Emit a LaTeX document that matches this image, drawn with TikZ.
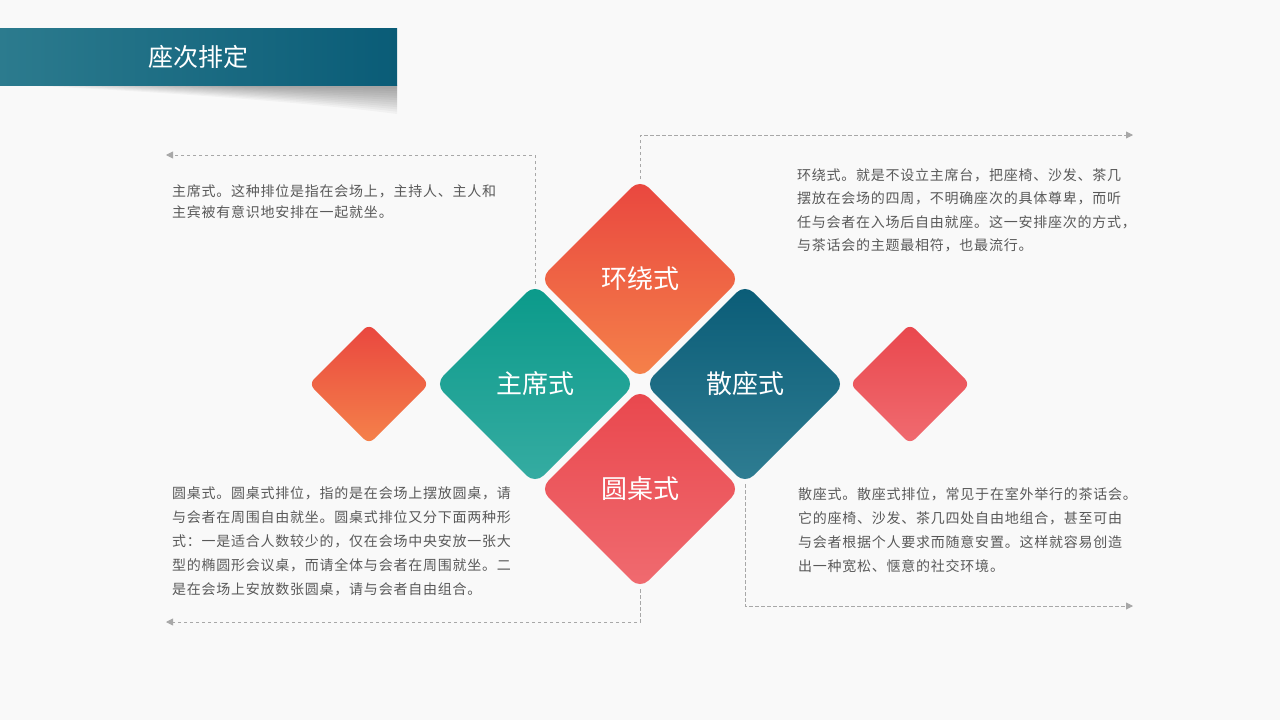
\documentclass[tikz,border=0pt]{standalone}
\usepackage{fontspec}
\newfontfamily\cjk{Noto Sans CJK SC}
\newfontfamily\cjkls[LetterSpace=5.5]{Noto Sans CJK SC}
\usetikzlibrary{shapes.geometric,arrows.meta}
\definecolor{bgc}{HTML}{F9F9F9}
\definecolor{txtc}{HTML}{595959}
\definecolor{linec}{HTML}{A8A8A8}
\definecolor{barL}{HTML}{2C7B8E}
\definecolor{barR}{HTML}{0A5C77}
\definecolor{redT}{HTML}{E9463F}
\definecolor{orgB}{HTML}{F5824A}
\definecolor{tealT}{HTML}{0A9A8A}
\definecolor{tealB}{HTML}{36ACA2}
\definecolor{navyT}{HTML}{0A5C77}
\definecolor{navyB}{HTML}{2F7D92}
\definecolor{roseT}{HTML}{E9474D}
\definecolor{roseB}{HTML}{F06B70}
\pgfdeclarelayer{back}
\pgfdeclarelayer{lines}
\pgfsetlayers{back,lines,main}
\begin{document}
\begin{tikzpicture}[x=1pt,y=-1pt,
  dia/.style={diamond, aspect=1, inner sep=0pt, outer sep=0pt, text=white,
    font=\cjk\fontsize{26}{30}\selectfont},
  bigdia/.style={dia, minimum width=200pt, minimum height=200pt, rounded corners=12pt},
  smalldia/.style={dia, minimum width=120pt, minimum height=120pt, rounded corners=7pt},
  txt/.style={anchor=north west, inner sep=0pt, outer sep=0pt, align=left, text=txtc},
  conn/.style={draw=linec, line width=0.9pt, dash pattern=on 3.5pt off 2.5pt,
    -{Triangle[length=7pt,width=7pt,fill=linec]}},
  titlebar/.style={minimum width=397pt, minimum height=57pt, inner sep=0pt,
    left color=barL, right color=barR, text=white, font=\cjk\fontsize{25}{30}\selectfont}
]
\begin{pgfonlayer}{back}
\fill[bgc] (0,0) rectangle (1280,720);
\end{pgfonlayer}
\useasboundingbox (0,0) rectangle (1280,720);

% title shadow (layered soft shadow)
\foreach \k in {0,...,11} {
  \fill[black,opacity=0.032]
    ({15+16*\k},85) .. controls ({110+12*\k},{89-0.2*\k}) and ({290-3*\k},{100-1.2*\k}) .. (397,{114-2.3*\k})
    -- (397,85) -- cycle;
}
\node[titlebar] (title) at (198.5,56.5) {座次排定};

% diamonds
\node[bigdia, top color=redT, bottom color=orgB] (huan) at (640,279) {环绕式};
\node[bigdia, top color=tealT, bottom color=tealB] (zhu) at (535,384) {主席式};
\node[bigdia, top color=navyT, bottom color=navyB] (san) at (745,384) {散座式};
\node[bigdia, top color=roseT, bottom color=roseB] (yuan) at (640,489) {圆桌式};
\node[smalldia, top color=redT, bottom color=orgB] (sl) at (369,384) {};
\node[smalldia, top color=roseT, bottom color=roseB] (sr) at (910,384) {};

% texts
\node[txt, font=\cjkls\fontsize{14}{20.5}\selectfont] (t1) at (172,185)
  {主席式。这种排位是指在会场上，主持人、主人和\\主宾被有意识地安排在一起就坐。};
\node[txt, font=\cjkls\fontsize{14}{23.5}\selectfont] (t2) at (797,168.5)
  {环绕式。就是不设立主席台，把座椅、沙发、茶几\\摆放在会场的四周，不明确座次的具体尊卑，而听\\任与会者在入场后自由就座。这一安排座次的方式，\\与茶话会的主题最相符，也最流行。};
\node[txt, font=\cjkls\fontsize{14}{24}\selectfont] (t3) at (172,486.5)
  {圆桌式。圆桌式排位，指的是在会场上摆放圆桌，请\\与会者在周围自由就坐。圆桌式排位又分下面两种形\\式：一是适合人数较少的，仅在会场中央安放一张大\\型的椭圆形会议桌，而请全体与会者在周围就坐。二\\是在会场上安放数张圆桌，请与会者自由组合。};
\node[txt, font=\cjkls\fontsize{14}{24}\selectfont] (t4) at (798,488)
  {散座式。散座式排位，常见于在室外举行的茶话会。\\它的座椅、沙发、茶几四处自由地组合，甚至可由\\与会者根据个人要求而随意安置。这样就容易创造\\出一种宽松、惬意的社交环境。};

% connectors
\coordinate (a1) at (166,155);
\coordinate (a2) at (1133,135);
\coordinate (a3) at (166,622);
\coordinate (a4) at (1133,606);
\begin{pgfonlayer}{lines}
\draw[conn] (zhu.north) |- (a1);
\draw[conn] (huan.north) |- (a2);
\draw[conn] (yuan.south) |- (a3);
\draw[conn] (san.south) |- (a4);
\end{pgfonlayer}
\end{tikzpicture}
\end{document}
